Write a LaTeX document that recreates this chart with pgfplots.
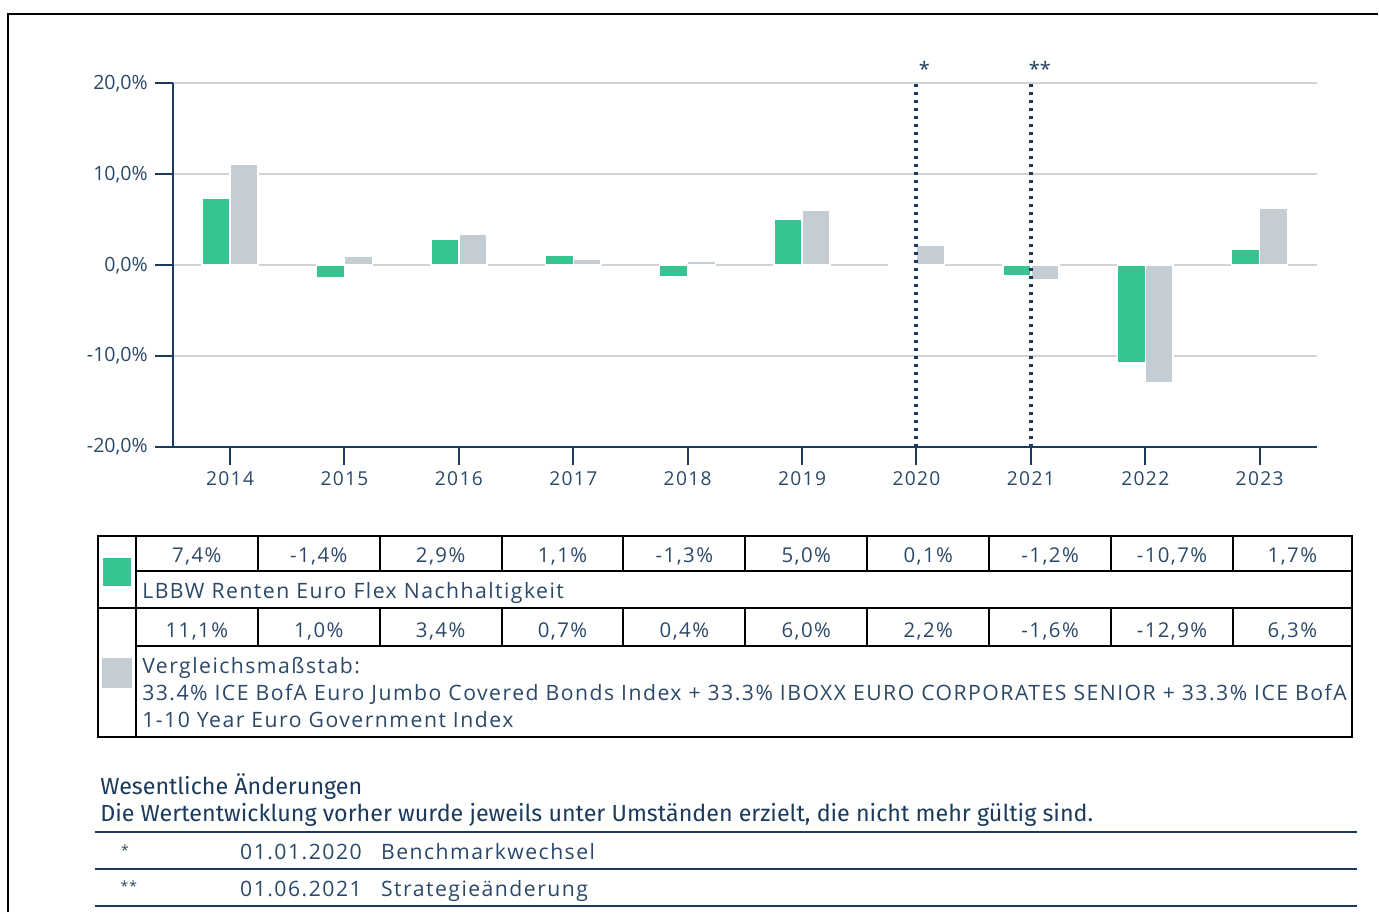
\documentclass[border=0pt]{standalone}
\usepackage{pgfplots}
\pgfplotsset{compat=1.18}
\usepackage{fontspec}
\setmainfont{Open Sans}
\newfontfamily\headfont{Fira Sans}
\newfontfamily\bodyfont[LetterSpace=7]{Open Sans}
\definecolor{lgreen}{HTML}{36C490}
\definecolor{lgrey}{HTML}{C5CDD4}
\definecolor{navy}{HTML}{1B3A5C}
\definecolor{txt}{HTML}{2B4868}
\definecolor{gridc}{HTML}{D3D3D3}
\begin{document}
\begin{tikzpicture}
\begin{scope}[x=0.5pt,y=-0.5pt,shift={(0pt,456.5pt)}]
\path[use as bounding box] (0,0) rectangle (1379,913);
\end{scope}
\begin{axis}[
  at={(86.5pt,232.8pt)}, anchor=south west, scale only axis,
  width=572.5pt, height=182pt,
  xmin=-0.5, xmax=9.5, ymin=-20, ymax=20,
  axis x line*=bottom, axis y line*=left,
  axis line style={navy, line width=1pt, -},
  xtick={0,...,9}, xticklabels={2014,2015,2016,2017,2018,2019,2020,2021,2022,2023},
  ytick={-20,-10,0,10,20},
  yticklabels={{-20,0\%},{-10,0\%},{0,0\%},{10,0\%},{20,0\%}},
  tick style={navy, line width=1pt}, major tick length=9pt, tick align=outside,
  ymajorgrids, grid style={gridc, line width=1pt},
  ybar=0pt, bar width=14pt,
  ticklabel style={font=\fontsize{9.8}{12}\selectfont, text=txt},
  xticklabel style={font=\bodyfont\fontsize{9.6}{12}\selectfont},
  clip=false,
]
\addplot[fill=lgreen, draw=white, line width=0.75pt] coordinates {(0,7.4) (1,-1.4) (2,2.9) (3,1.1) (4,-1.3) (5,5.0) (6,0.1) (7,-1.2) (8,-10.7) (9,1.7)};
\addplot[fill=lgrey, draw=white, line width=0.75pt] coordinates {(0,11.1) (1,1.0) (2,3.4) (3,0.7) (4,0.4) (5,6.0) (6,2.2) (7,-1.6) (8,-12.9) (9,6.3)};
\draw[navy, line width=2pt, dash pattern=on 1.7pt off 2.3pt] (axis cs:6,-20) -- (axis cs:6,20);
\draw[navy, line width=2pt, dash pattern=on 1.7pt off 2.3pt] (axis cs:7,-20) -- (axis cs:7,20);
\node[text=navy, anchor=south, inner sep=0pt, font=\fontsize{10}{12}\selectfont] at ([yshift=3pt, xshift=4pt]axis cs:6,20) {*};
\node[text=navy, anchor=south, inner sep=0pt, font=\fontsize{10}{12}\selectfont] at ([yshift=3pt, xshift=4.5pt]axis cs:7,20) {**};
\end{axis}
\begin{scope}[x=0.5pt,y=-0.5pt,shift={(0pt,456.5pt)}]
% frame
\draw[black, line width=1.2pt] (8,913) -- (8,14) -- (1379,14);
% table
\draw[black, line width=1pt] (98,536) rectangle (1353,738);
\draw[black, line width=1pt] (136,536) -- (136,738);
\draw[black, line width=1pt] (136,572) -- (1353,572);
\draw[black, line width=1pt] (98,609) -- (1353,609);
\draw[black, line width=1pt] (136,647) -- (1353,647);
\foreach \xx in {258,380,502,624,746,868,990,1112,1234} {
  \draw[black, line width=1pt] (\xx,536) -- (\xx,572);
  \draw[black, line width=1pt] (\xx,609) -- (\xx,647);
}
\fill[lgreen] (103,558) rectangle (131,587);
\fill[lgrey] (102,659) rectangle (132,689);
\begin{scope}[every node/.style={text=txt, inner sep=0pt, font=\bodyfont\fontsize{10.2}{12}\selectfont}]
\foreach \xx/\v in {197/{7,4\%},319/{-1,4\%},441/{2,9\%},563/{1,1\%},685/{-1,3\%},807/{5,0\%},929/{0,1\%},1051/{-1,2\%},1173/{-10,7\%},1293.5/{1,7\%}}
  \node[anchor=mid] at (\xx,558) {\v};
\foreach \xx/\v in {197/{11,1\%},319/{1,0\%},441/{3,4\%},563/{0,7\%},685/{0,4\%},807/{6,0\%},929/{2,2\%},1051/{-1,6\%},1173/{-12,9\%},1293.5/{6,3\%}}
  \node[anchor=mid] at (\xx,633) {\v};
\begin{scope}[every node/.append style={font=\bodyfont\fontsize{10.6}{12}\selectfont}]
\node[anchor=mid west] at (142,594) {LBBW Renten Euro Flex Nachhaltigkeit};
\node[anchor=mid west] at (142,669) {Vergleichsmaßstab:};
\node[anchor=mid west] at (142,696) {33.4\% ICE BofA Euro Jumbo Covered Bonds Index + 33.3\% IBOXX EURO CORPORATES SENIOR + 33.3\% ICE BofA};
\node[anchor=mid west] at (142,723) {1-10 Year Euro Government Index};
\node[anchor=mid west] at (240,855) {01.01.2020};
\node[anchor=mid west] at (381,855) {Benchmarkwechsel};
\node[anchor=mid west] at (240,892) {01.06.2021};
\node[anchor=mid west] at (381,892) {Strategieänderung};
\end{scope}
\node[anchor=mid] at (125,851) {\fontsize{7}{8}\selectfont *};
\node[anchor=mid] at (129,887) {\fontsize{7}{8}\selectfont **};
\end{scope}
\begin{scope}[every node/.style={text=navy, inner sep=0pt, font=\headfont\fontsize{11.65}{13}\selectfont}]
\node[anchor=mid west] at (100,790) {Wesentliche Änderungen};
\node[anchor=mid west] at (100,817) {Die Wertentwicklung vorher wurde jeweils unter Umständen erzielt, die nicht mehr gültig sind.};
\end{scope}
\draw[navy, line width=1pt] (95,833) -- (1358,833);
\draw[navy, line width=1pt] (95,870) -- (1358,870);
\draw[navy, line width=1pt] (95,907) -- (1358,907);
\end{scope}
\end{tikzpicture}
\end{document}
